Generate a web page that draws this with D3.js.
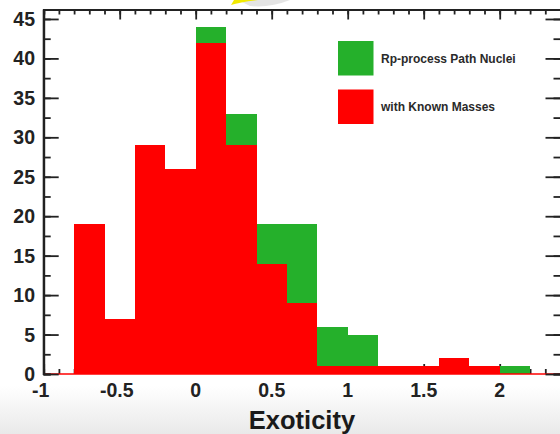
<!DOCTYPE html>
<html>
<head>
<meta charset="utf-8">
<script src="https://cdn.jsdelivr.net/npm/d3@7"></script>
<style>
  html, body { margin: 0; padding: 0; background: #fff; }
  svg { display: block; }
  text { font-family: "Liberation Sans", Arial, sans-serif; }
</style>
</head>
<body>
<svg id="chart" width="560" height="434"></svg>
<script>
// ---- data ----
const binStarts = [-0.8, -0.6, -0.4, -0.2, 0.0, 0.2, 0.4, 0.6, 0.8, 1.0, 1.2, 1.4, 1.6, 1.8, 2.0];
const binWidth = 0.2;
const pathNuclei  = [19, 7, 29, 26, 44, 33, 19, 19, 6, 5, 1, 1, 2, 1, 1];
const knownMasses = [19, 7, 29, 26, 42, 29, 14, 9, 1, 1, 1, 1, 2, 1, 0];
const xTickLabels = [-1, -0.5, 0, 0.5, 1, 1.5, 2];
const yTickLabels = [0, 5, 10, 15, 20, 25, 30, 35, 40, 45];
const legendLabels = ["Rp-process Path Nuclei", "with Known Masses"];
const xTitle = "Exoticity";

const GREEN = "#25b02b", RED = "#ff0000", AXIS = "#222";

const svg = d3.select("#chart");

// background gradient at bottom
const defs = svg.append("defs");
const grad = defs.append("linearGradient").attr("id", "bg").attr("x1", 0).attr("y1", 0).attr("x2", 0).attr("y2", 1);
grad.append("stop").attr("offset", "0%").attr("stop-color", "#ffffff");
grad.append("stop").attr("offset", "100%").attr("stop-color", "#e9e9e9");
svg.append("rect").attr("x", 0).attr("y", 386).attr("width", 560).attr("height", 48).attr("fill", "url(#bg)");

// small decoration at top
svg.append("path").attr("d", "M238,0 L290,0 Q270,8 250,6 Z").attr("fill", "#d9d9d9").attr("opacity", 0.7);
svg.append("path").attr("d", "M231,5 Q240,2 258,0 L234,0 Z").attr("fill", "#f2ea00");

const x = d3.scaleLinear().domain([-1, 2.4]).range([43.7, 560.5]);
const y = d3.scaleLinear().domain([0, 46.2]).range([374, 9.5]);

const g = svg.append("g");

// bottom axis ticks (inside, drawn under bars)
const xMinor = d3.range(-10, 24).map(d => d / 10);
const bottomAxis = d3.axisTop(x).tickValues(xMinor).tickSize(5).tickFormat("");
g.append("g").attr("transform", `translate(0,${y(0)})`).call(bottomAxis)
  .call(s => s.select(".domain").remove())
  .call(s => s.selectAll("line").attr("stroke", AXIS).attr("stroke-width", 1.8));
const bottomMajor = d3.axisTop(x).tickValues(xTickLabels).tickSize(10).tickFormat("");
g.append("g").attr("transform", `translate(0,${y(0)})`).call(bottomMajor)
  .call(s => s.select(".domain").remove())
  .call(s => s.selectAll("line").attr("stroke", AXIS).attr("stroke-width", 1.8));

// bars (crisp edges to avoid seams)
const idx = d3.range(binStarts.length);
const px = v => Math.round(x(+v.toFixed(6)) + 1e-6);
const rx = i => px(binStarts[i]);
const rw = i => px(binStarts[i] + binWidth) - px(binStarts[i]);
g.append("g").attr("shape-rendering", "crispEdges").selectAll("rect").data(idx).join("rect")
  .attr("x", rx)
  .attr("width", rw)
  .attr("y", i => Math.round(y(pathNuclei[i])))
  .attr("height", i => Math.round(y(0)) - Math.round(y(pathNuclei[i])))
  .attr("fill", GREEN);
g.append("g").attr("shape-rendering", "crispEdges").selectAll("rect").data(idx).join("rect")
  .attr("x", rx)
  .attr("width", rw)
  .attr("y", i => Math.round(y(knownMasses[i])))
  .attr("height", i => Math.round(y(0)) - Math.round(y(knownMasses[i])))
  .attr("fill", RED);

// red baseline
g.append("line").attr("x1", x(-1)).attr("x2", x(2.4)).attr("y1", y(0)).attr("y2", y(0))
  .attr("stroke", RED).attr("stroke-width", 1.5);

// top axis
g.append("g").attr("transform", `translate(0,${y(46.2)})`)
  .call(d3.axisBottom(x).tickValues(xMinor).tickSize(5).tickFormat(""))
  .call(s => s.select(".domain").attr("stroke", AXIS).attr("stroke-width", 2))
  .call(s => s.selectAll("line").attr("stroke", AXIS).attr("stroke-width", 1.8));
g.append("g").attr("transform", `translate(0,${y(46.2)})`)
  .call(d3.axisBottom(x).tickValues(xTickLabels).tickSize(10).tickFormat(""))
  .call(s => s.select(".domain").remove())
  .call(s => s.selectAll("line").attr("stroke", AXIS).attr("stroke-width", 1.8));

// left axis
const yMinor = d3.range(0, 19).map(d => d * 2.5);
g.append("g").attr("transform", `translate(${x(-1)},0)`)
  .call(d3.axisRight(y).tickValues(yMinor).tickSize(7).tickFormat(""))
  .call(s => s.select(".domain").attr("stroke", AXIS).attr("stroke-width", 2))
  .call(s => s.selectAll("line").attr("stroke", AXIS).attr("stroke-width", 1.8));
g.append("g").attr("transform", `translate(${x(-1)},0)`)
  .call(d3.axisRight(y).tickValues(yTickLabels).tickSize(15).tickFormat(""))
  .call(s => s.select(".domain").remove())
  .call(s => s.selectAll("line").attr("stroke", AXIS).attr("stroke-width", 1.8));
// right axis
g.append("g").attr("transform", `translate(${x(2.4)},0)`)
  .call(d3.axisLeft(y).tickValues(yMinor).tickSize(7).tickFormat(""))
  .call(s => s.select(".domain").attr("stroke", AXIS).attr("stroke-width", 2))
  .call(s => s.selectAll("line").attr("stroke", AXIS).attr("stroke-width", 1.8));
g.append("g").attr("transform", `translate(${x(2.4)},0)`)
  .call(d3.axisLeft(y).tickValues(yTickLabels).tickSize(15).tickFormat(""))
  .call(s => s.select(".domain").remove())
  .call(s => s.selectAll("line").attr("stroke", AXIS).attr("stroke-width", 1.8));
// left axis line redraw over bars
g.append("line").attr("x1", x(-1)).attr("x2", x(-1)).attr("y1", y(46.2)).attr("y2", y(0) + 1)
  .attr("stroke", AXIS).attr("stroke-width", 2);

// tick labels
svg.append("g").selectAll("text").data(yTickLabels).join("text")
  .attr("x", 35).attr("y", d => y(d) + 7)
  .attr("text-anchor", "end")
  .attr("font-size", 19.5).attr("font-weight", "bold").attr("fill", AXIS)
  .text(d => d);
svg.append("g").selectAll("text").data(xTickLabels).join("text")
  .attr("x", d => x(d) - (d < 0 ? 3 : 0)).attr("y", 396.5)
  .attr("text-anchor", "middle")
  .attr("font-size", 19.5).attr("font-weight", "bold").attr("fill", AXIS)
  .text(d => d);

// axis title
svg.append("text").attr("x", 302).attr("y", 428.5).attr("text-anchor", "middle")
  .attr("font-size", 25.5).attr("font-weight", "bold").attr("fill", "#1a1a1a")
  .text(xTitle);

// legend
const legColors = [GREEN, RED];
const leg = svg.append("g");
legendLabels.forEach((lab, i) => {
  leg.append("rect").attr("x", 338).attr("y", 41 + i * 48.5).attr("width", 35.5).attr("height", 34.5)
    .attr("fill", legColors[i]);
  leg.append("text").attr("x", 381).attr("y", 62.5 + i * 48.5)
    .attr("font-size", 12).attr("font-weight", "bold").attr("fill", "#2a2a2a")
    .text(lab);
});
</script>
</body>
</html>
